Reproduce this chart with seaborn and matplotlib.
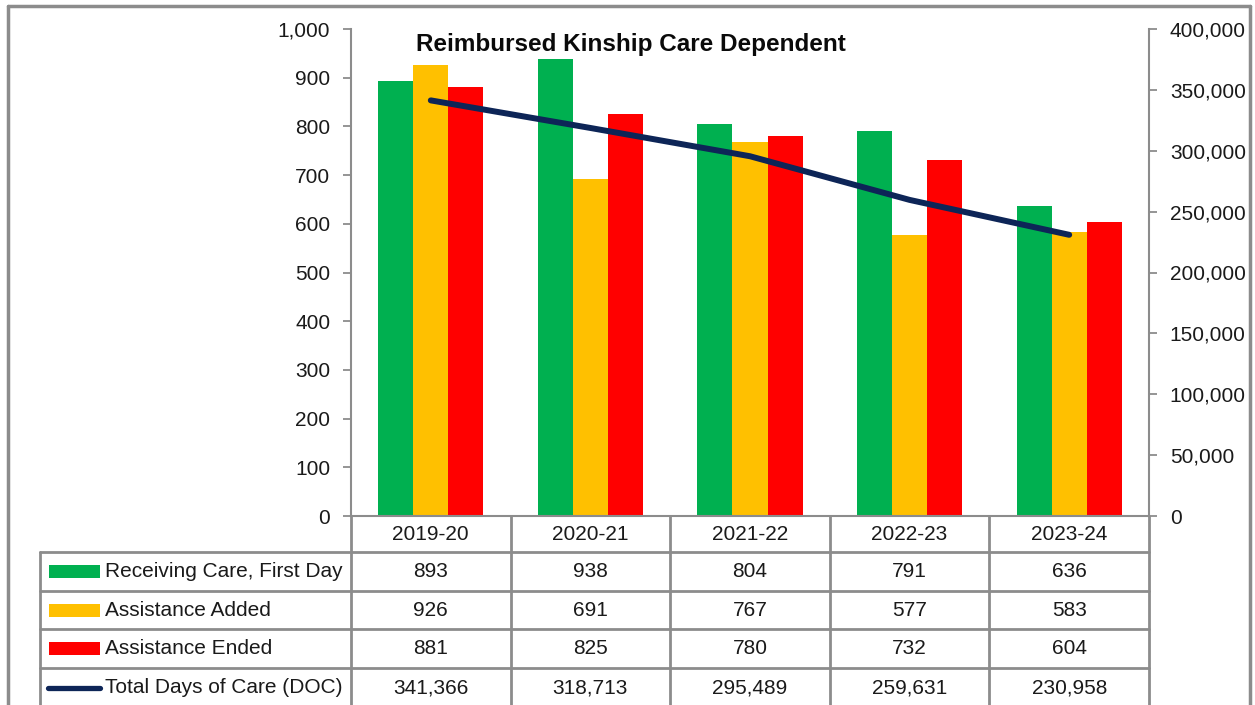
import numpy as np
import pandas as pd
import matplotlib
matplotlib.use('Agg')
import matplotlib.pyplot as plt
import matplotlib.transforms as mtransforms
from matplotlib.lines import Line2D
from matplotlib.patches import Rectangle
import seaborn as sns

years = ['2019-20', '2020-21', '2021-22', '2022-23', '2023-24']
receiving = [893, 938, 804, 791, 636]
added = [926, 691, 767, 577, 583]
ended = [881, 825, 780, 732, 604]
doc = [341366, 318713, 295489, 259631, 230958]

bar_names = ['Receiving Care, First Day', 'Assistance Added', 'Assistance Ended']
line_name = 'Total Days of Care (DOC)'
colors = {'Receiving Care, First Day': '#00B050',
          'Assistance Added': '#FFC000',
          'Assistance Ended': '#FF0000'}
navy = '#0D2557'
grid_gray = '#8C8C8C'
txt = '#1A1A1A'
fs = 15

sns.set_theme(style='white')
plt.rcParams['font.family'] = ['Liberation Sans', 'DejaVu Sans']

df = pd.DataFrame({
    'year': years * 3,
    'series': [n for n in bar_names for _ in years],
    'value': receiving + added + ended,
})

W, H = 1255, 705
fig = plt.figure(figsize=(W / 100, H / 100), dpi=100)

def fx(px):
    return px / W

def fy(py):
    return 1 - py / H

ax_l, ax_r, ax_t, ax_b = 351, 1149, 29, 516
ax = fig.add_axes([fx(ax_l), fy(ax_b), fx(ax_r - ax_l), fy(ax_t) - fy(ax_b)])
sns.barplot(data=df, x='year', y='value', hue='series', palette=colors,
            hue_order=bar_names, order=years, width=0.66, gap=0,
            saturation=1, legend=False, ax=ax, edgecolor='none')
ax.set_xlim(-0.5, len(years) - 0.5)
ax.set_ylim(0, 1000)
ax.set_yticks(range(0, 1001, 100))
ax.set_yticklabels([f'{v:,}' for v in range(0, 1001, 100)], fontsize=fs, color=txt)
ax.set_xticks([])
ax.set_xlabel('')
ax.set_ylabel('')
ax.tick_params(axis='y', direction='out', length=6, width=1.3, color=grid_gray, pad=9, left=True)

ax2 = ax.twinx()
sns.lineplot(x=np.arange(len(years)), y=doc, color=navy, linewidth=4.3, ax=ax2,
             solid_capstyle='round')
ax2.set_ylim(0, 400000)
ax2.set_yticks(range(0, 400001, 50000))
ax2.set_yticklabels([f'{v:,}' for v in range(0, 400001, 50000)], fontsize=fs, color=txt)
ax2.tick_params(axis='y', direction='out', length=6, width=1.3, color=grid_gray, pad=9, right=True)
ax2.set_xlim(-0.5, len(years) - 0.5)

for a in (ax, ax2):
    a.spines['top'].set_visible(False)
    for s in ('left', 'right', 'bottom'):
        a.spines[s].set_color(grid_gray)
        a.spines[s].set_linewidth(1.5)
ax.spines['right'].set_visible(False)
ax2.spines['left'].set_visible(False)
ax2.spines['bottom'].set_visible(False)

fig.text(fx(631), fy(44), 'Reimbursed Kinship Care Dependent', ha='center', va='center',
         fontsize=17.5, fontweight='bold', color='#0A0A0A')

# data table below the plot
rows = [516, 552, 591, 629, 668, 707]
tab_left = 40
blend = mtransforms.blended_transform_factory(ax.transData, fig.transFigure)
lw = 2

def hline(x0, x1, y):
    fig.add_artist(Line2D([fx(x0), fx(x1)], [fy(y), fy(y)], color=grid_gray, lw=lw))

def vline(x, y0, y1):
    fig.add_artist(Line2D([fx(x), fx(x)], [fy(y0), fy(y1)], color=grid_gray, lw=lw))

for y in rows[1:]:
    hline(tab_left, ax_r, y)
vline(tab_left, rows[1], H + 2)
for i in range(len(years) + 1):
    fig.add_artist(Line2D([i - 0.5, i - 0.5], [fy(rows[0]), fy(H + 2)], color=grid_gray,
                          lw=lw, transform=blend))

def row_mid(r):
    return fy((rows[r] + rows[r + 1]) / 2)

for i, yr in enumerate(years):
    fig.text(i, row_mid(0), yr, transform=blend, ha='center', va='center', fontsize=fs, color=txt)

table_vals = [receiving, added, ended, doc]
for r, vals in enumerate(table_vals, start=1):
    for i, v in enumerate(vals):
        fig.text(i, row_mid(r), f'{v:,}', transform=blend, ha='center', va='center',
                 fontsize=fs, color=txt)

labels = bar_names + [line_name]
for r, name in enumerate(labels, start=1):
    ymid = (rows[r] + rows[r + 1]) / 2
    if name in colors:
        fig.add_artist(Rectangle((fx(49), fy(ymid + 6.5)), fx(51), fy(ymid - 6.5) - fy(ymid + 6.5),
                                 facecolor=colors[name], edgecolor='none'))
    else:
        fig.add_artist(Line2D([fx(48), fx(100)], [fy(ymid), fy(ymid)], color=navy, lw=3.8,
                              solid_capstyle='round'))
    fig.text(fx(105), fy(ymid), name, ha='left', va='center', fontsize=fs, color=txt)

# outer chart border
for seg in ([8, 8, 6, H + 2], [1250, 1250, 6, H + 2], [8, 1250, 6, 6]):
    fig.add_artist(Line2D([fx(seg[0]), fx(seg[1])], [fy(seg[2]), fy(seg[3])], color=grid_gray, lw=2.5))

fig.savefig('out.png', dpi=100)
